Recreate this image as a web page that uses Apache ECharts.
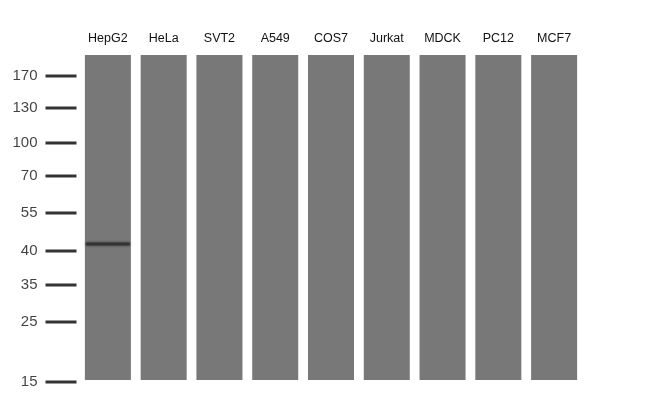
<!DOCTYPE html>
<html>
<head>
<meta charset="utf-8">
<script src="https://cdn.jsdelivr.net/npm/echarts@6/dist/echarts.min.js"></script>
<style>html,body{margin:0;padding:0;background:#fff}#main{width:650px;height:418px}</style>
</head>
<body>
<div id="main"></div>
<script>
// lanes and marker ladder (positions = migration distance from top of gel, px-ish)
var lanes = ['HepG2', 'HeLa', 'SVT2', 'A549', 'COS7', 'Jurkat', 'MDCK', 'PC12', 'MCF7'];
var laneLength = [325, 325, 325, 325, 325, 325, 325, 325, 325];
var markerLabels = ['170', '130', '100', '70', '55', '40', '35', '25', '15'];
var markerPos = [21, 53, 88, 121, 158, 196, 230, 267, 327];
var bandLane = ['HepG2'];
var bandPos = [189];

var myChart = echarts.init(document.getElementById('main'));

var option = {
    backgroundColor: '#fff',
    animation: false,
    grid: [
        { left: 80, right: 68, top: 55, bottom: 33 },
        { left: 45, width: 32, top: 55, bottom: 33 }
    ],
    xAxis: [{
        type: 'category',
        data: lanes,
        position: 'top',
        gridIndex: 0,
        axisLine: { show: false },
        axisTick: { show: false },
        axisLabel: { color: '#111', fontSize: 12.5, fontFamily: 'Liberation Sans', margin: 10 }
    }, {
        type: 'value',
        gridIndex: 1,
        min: 0, max: 1,
        show: false
    }],
    yAxis: [{
        type: 'value', gridIndex: 0, min: 0, max: 330, inverse: true, show: false
    }, {
        type: 'value', gridIndex: 1, min: 0, max: 330, inverse: true, show: false
    }],
    series: [{
        type: 'bar',
        data: laneLength,
        barCategoryGap: '17.5%',
        itemStyle: { color: '#787878' }
    }, {
        type: 'scatter',
        data: bandLane.map(function (l, i) { return [l, bandPos[i]]; }),
        symbol: 'rect',
        symbolSize: [44, 3],
        itemStyle: { color: '#2a2a2a', opacity: 0.8, shadowBlur: 3, shadowColor: 'rgba(0,0,0,0.6)' },
        z: 3
    }, {
        type: 'scatter',
        xAxisIndex: 1,
        yAxisIndex: 1,
        data: markerPos.map(function (p) { return [0.5, p]; }),
        symbol: 'rect',
        symbolSize: [31, 3],
        itemStyle: { color: '#000' },
        label: {
            show: true,
            position: 'left',
            distance: 8,
            color: '#111',
            fontSize: 15,
            fontFamily: 'Liberation Sans',
            formatter: function (p) { return markerLabels[p.dataIndex]; }
        }
    }]
};
myChart.setOption(option);
</script>
</body>
</html>
